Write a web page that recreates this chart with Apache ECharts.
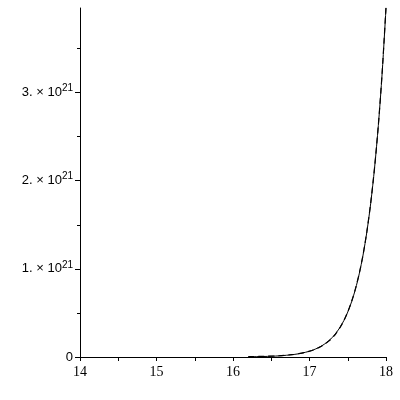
<!DOCTYPE html>
<html>
<head>
<meta charset="utf-8">
<script src="https://cdn.jsdelivr.net/npm/echarts@6/dist/echarts.min.js"></script>
<style>html,body{margin:0;padding:0;background:#fff;}#c{width:400px;height:400px;}</style>
</head>
<body>
<div id="c"></div>
<script>
// x positions
var xs = [16.2, 16.4, 16.6, 16.8, 16.9, 17.0, 17.05, 17.1, 17.15, 17.2, 17.25, 17.3, 17.35, 17.4, 17.45, 17.5, 17.55, 17.6, 17.65, 17.7, 17.75, 17.8, 17.85, 17.9, 17.95, 18.0];
// solid curve (units of 1e21)
var solidY = [0.0025, 0.0056, 0.0127, 0.0289, 0.0436, 0.0656, 0.0806, 0.0989, 0.1214, 0.149, 0.183, 0.224, 0.276, 0.338, 0.415, 0.510, 0.626, 0.768, 0.943, 1.157, 1.421, 1.744, 2.141, 2.628, 3.226, 3.96];
// dashed curve (units of 1e21)
var dashY = [0.0040, 0.0075, 0.0140, 0.0300, 0.0445, 0.0660, 0.0800, 0.0975, 0.1190, 0.146, 0.180, 0.219, 0.272, 0.336, 0.414, 0.512, 0.630, 0.773, 0.948, 1.160, 1.425, 1.748, 2.146, 2.633, 3.232, 3.97];
var yMajor = [0, 1, 2, 3];
var yMinor = [0.5, 1.5, 2.5, 3.5];
var SCALE = 1e21;

function pairs(ys) { return xs.map(function (x, i) { return [x, ys[i] * SCALE]; }); }

var chart = echarts.init(document.getElementById('c'), null, { renderer: 'canvas' });
chart.setOption({
  animation: false,
  backgroundColor: '#fff',
  grid: { left: 80, right: 14, top: 8, bottom: 43, containLabel: false },
  xAxis: {
    type: 'value', min: 14, max: 18, interval: 1,
    axisLine: { onZero: false, lineStyle: { color: '#000', width: 1 } },
    axisTick: { show: true, length: 4, lineStyle: { color: '#000' } },
    minorTick: { show: true, splitNumber: 2, length: 4, lineStyle: { color: '#000' } },
    splitLine: { show: false },
    axisLabel: { color: '#000', fontFamily: 'Liberation Serif', fontSize: 14, margin: 8 }
  },
  yAxis: [{
    type: 'value', min: 0, max: 3.96 * SCALE,
    axisLine: { show: true, onZero: false, lineStyle: { color: '#000', width: 1 } },
    axisTick: { show: true, length: 5, customValues: yMajor.map(function (v) { return v * SCALE; }), lineStyle: { color: '#000' } },
    splitLine: { show: false },
    axisLabel: {
      customValues: yMajor.map(function (v) { return v * SCALE; }),
      margin: 7,
      formatter: function (v) {
        var n = Math.round(v / SCALE);
        if (n === 0) return '{a|0}';
        return '{a|' + n + '. \u00d7 10}{s|21}';
      },
      rich: {
        a: { fontFamily: 'Liberation Sans', fontSize: 13, color: '#000' },
        s: { fontFamily: 'Liberation Sans', fontSize: 10, color: '#000', verticalAlign: 'bottom', padding: [0, 0, 8, 0] }
      }
    }
  }, {
    type: 'value', min: 0, max: 3.96 * SCALE, position: 'left',
    axisLine: { show: false },
    axisTick: { show: true, length: 3, customValues: yMinor.map(function (v) { return v * SCALE; }), lineStyle: { color: '#000' } },
    axisLabel: { show: false },
    splitLine: { show: false }
  }],
  series: [{
    type: 'line', data: pairs(solidY), showSymbol: false, smooth: 0.3,
    lineStyle: { color: '#000', width: 1 }, z: 3
  }, {
    type: 'line', data: pairs(dashY), showSymbol: false, smooth: 0.3,
    lineStyle: { color: '#000', width: 1.2, type: [6, 4] }, z: 2
  }]
});
</script>
</body>
</html>
